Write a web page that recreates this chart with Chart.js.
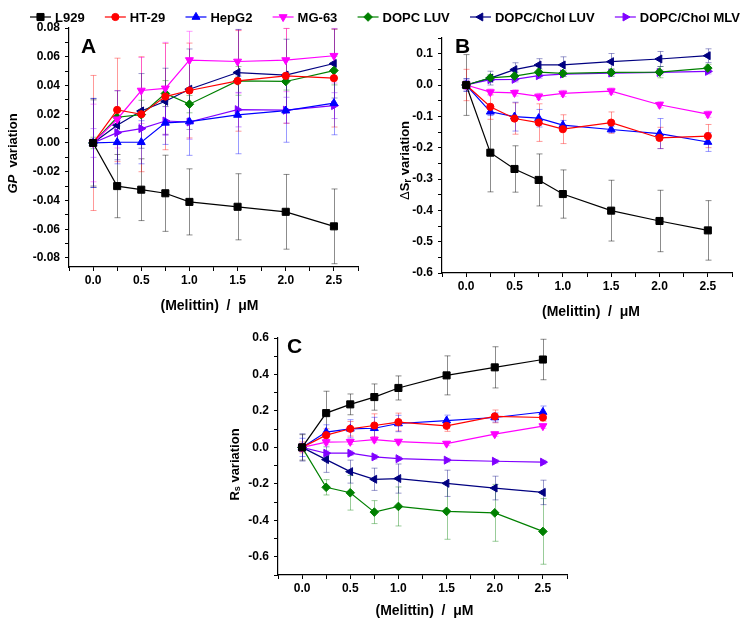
<!DOCTYPE html>
<html>
<head>
<meta charset="utf-8">
<script src="https://cdn.jsdelivr.net/npm/chart.js"></script>
<style>
  body { margin: 0; background: #fff; }
  #quadro { position: relative; width: 743px; height: 624px; }
  #quadro canvas { position: absolute; left: 0; top: 0; }
</style>
</head>
<body>
<div id="quadro">
  <canvas id="painelA" width="743" height="624"></canvas>
  <canvas id="painelB" width="743" height="624"></canvas>
  <canvas id="painelC" width="743" height="624"></canvas>
</div>
<script>
//--------------------------------------------------
// DADOS
//--------------------------------------------------

const concentracoes = [0, 0.25, 0.5, 0.75, 1.0, 1.5, 2.0, 2.5];
const series = ['L929', 'HT-29', 'HepG2', 'MG-63', 'DOPC LUV', 'DOPC/Chol LUV', 'DOPC/Chol MLV'];

// painel A — GP
const gpL929     = [0, -0.030, -0.0325, -0.035, -0.041, -0.0444, -0.0479, -0.058];
const gpHT29     = [0, 0.023, 0.020, 0.0323, 0.0365, 0.0432, 0.0467, 0.0451];
const gpHepG2    = [0, 0.0005, 0.0005, 0.014, 0.0149, 0.0195, 0.0225, 0.0277];
const gpMG63     = [0, 0.0165, 0.0365, 0.038, 0.0577, 0.0567, 0.0577, 0.0607];
const gpLuv      = [0, 0.0179, 0.0197, 0.0344, 0.027, 0.0432, 0.0428, 0.0504];
const gpCholLuv  = [0, 0.0123, 0.0223, 0.029, 0.0374, 0.049, 0.0472, 0.0553];
const gpCholMlv  = [0, 0.0072, 0.010, 0.0153, 0.0146, 0.0232, 0.0228, 0.026];

const gpErroL929    = [0.030, 0.022, 0.0215, 0.0265, 0.023, 0.023, 0.026, 0.026];
const gpErroHT29    = [0.047, 0.036, 0.040, 0.037, 0.033, 0.035, 0.033, 0.034];
const gpErroHepG2   = [0.031, 0.015, 0.015, 0.015, 0.0235, 0.027, 0.022, 0.022];
const gpErroMG63    = [0.027, 0.020, 0.023, 0.032, 0.020, 0.022, 0.022, 0.019];
const gpErroLuv     = [0.004, 0.006, 0.010, 0.009, 0.006, 0.010, 0.006, 0.010];
const gpErroCholLuv = [0.031, 0.024, 0.026, 0.023, 0.028, 0.030, 0.025, 0.024];
const gpErroCholMlv = [0.010, 0.008, 0.010, 0.010, 0.012, 0.012, 0.009, 0.009];

// painel B — ΔSr
const srL929     = [0, -0.216, -0.268, -0.303, -0.348, -0.401, -0.434, -0.464];
const srHT29     = [0, -0.0695, -0.107, -0.120, -0.141, -0.120, -0.169, -0.163];
const srHepG2    = [0, -0.0855, -0.101, -0.106, -0.128, -0.142, -0.155, -0.182];
const srMG63     = [0, -0.0226, -0.025, -0.0365, -0.027, -0.0195, -0.063, -0.093];
const srLuv      = [0, 0.023, 0.0286, 0.041, 0.037, 0.040, 0.041, 0.054];
const srCholLuv  = [0, 0.022, 0.049, 0.064, 0.064, 0.0745, 0.083, 0.0935];
const srCholMlv  = [0, 0.017, 0.018, 0.0297, 0.035, 0.038, 0.040, 0.0435];

const srErroL929    = [0.097, 0.125, 0.074, 0.083, 0.077, 0.097, 0.098, 0.095];
const srErroHT29    = [0.050, 0.040, 0.050, 0.060, 0.046, 0.034, 0.034, 0.037];
const srErroHepG2   = [0.020, 0.012, 0.046, 0.028, 0.015, 0.010, 0.048, 0.030];
const srErroMG63    = [0.012, 0.010, 0.010, 0.010, 0.010, 0.010, 0.010, 0.010];
const srErroLuv     = [0.010, 0.010, 0.012, 0.010, 0.010, 0.012, 0.018, 0.012];
const srErroCholLuv = [0.020, 0.022, 0.022, 0.020, 0.026, 0.026, 0.024, 0.022];
const srErroCholMlv = [0.015, 0.008, 0.008, 0.008, 0.008, 0.010, 0.008, 0.008];

// painel C — Rs
const rsL929     = [0, 0.188, 0.236, 0.276, 0.326, 0.395, 0.439, 0.482];
const rsHT29     = [0, 0.067, 0.102, 0.120, 0.139, 0.118, 0.170, 0.164];
const rsHepG2    = [0, 0.084, 0.102, 0.105, 0.131, 0.147, 0.164, 0.194];
const rsMG63     = [0, 0.029, 0.031, 0.043, 0.032, 0.021, 0.073, 0.117];
const rsLuv      = [0, -0.219, -0.249, -0.355, -0.324, -0.351, -0.359, -0.461];
const rsCholLuv  = [0, -0.067, -0.133, -0.175, -0.171, -0.197, -0.223, -0.247];
const rsCholMlv  = [0, -0.032, -0.032, -0.052, -0.062, -0.070, -0.076, -0.081];

const rsErroL929    = [0.070, 0.120, 0.057, 0.072, 0.066, 0.107, 0.113, 0.111];
const rsErroHT29    = [0.030, 0.035, 0.040, 0.064, 0.049, 0.030, 0.035, 0.020];
const rsErroHepG2   = [0.050, 0.040, 0.050, 0.060, 0.045, 0.030, 0.025, 0.033];
const rsErroMG63    = [0.020, 0.015, 0.015, 0.015, 0.012, 0.012, 0.012, 0.012];
const rsErroLuv     = [0.020, 0.042, 0.095, 0.063, 0.107, 0.153, 0.156, 0.180];
const rsErroCholLuv = [0.075, 0.070, 0.063, 0.061, 0.080, 0.072, 0.065, 0.067];
const rsErroCholMlv = [0.020, 0.012, 0.012, 0.012, 0.010, 0.010, 0.010, 0.010];

// ticks
const ticksX   = [-0.25, 0, 0.25, 0.5, 0.75, 1.0, 1.25, 1.5, 1.75, 2.0, 2.25, 2.5, 2.75];
const rotulosX = ['', '0.0', '', '0.5', '', '1.0', '', '1.5', '', '2.0', '', '2.5', ''];

const ticksYA   = [-0.08, -0.07, -0.06, -0.05, -0.04, -0.03, -0.02, -0.01, 0, 0.01, 0.02, 0.03, 0.04, 0.05, 0.06, 0.07, 0.08];
const rotulosYA = ['-0.08', '', '-0.06', '', '-0.04', '', '-0.02', '', '0.00', '', '0.02', '', '0.04', '', '0.06', '', '0.08'];

const ticksYB   = [-0.6, -0.55, -0.5, -0.45, -0.4, -0.35, -0.3, -0.25, -0.2, -0.15, -0.1, -0.05, 0, 0.05, 0.1, 0.15];
const rotulosYB = ['-0.6', '', '-0.5', '', '-0.4', '', '-0.3', '', '-0.2', '', '-0.1', '', '0.0', '', '0.1', ''];

const ticksYC   = [-0.7, -0.6, -0.5, -0.4, -0.3, -0.2, -0.1, 0, 0.1, 0.2, 0.3, 0.4, 0.5, 0.6];
const rotulosYC = ['', '-0.6', '', '-0.4', '', '-0.2', '', '0.0', '', '0.2', '', '0.4', '', '0.6'];

//--------------------------------------------------
// ESTILOS
//--------------------------------------------------

const cores = ['#000000', '#ff0000', '#0000ff', '#ff00ff', '#008000', '#000080', '#8000ff'];

const marcadores = [
  { estilo: 'rect',     rotacao: 0,   raio: 5   },
  { estilo: 'circle',   rotacao: 0,   raio: 3.6 },
  { estilo: 'triangle', rotacao: 0,   raio: 4.6 },
  { estilo: 'triangle', rotacao: 180, raio: 4.6 },
  { estilo: 'rectRot',  rotacao: 0,   raio: 4.3 },
  { estilo: 'triangle', rotacao: 270, raio: 4.6 },
  { estilo: 'triangle', rotacao: 90,  raio: 4.6 }
];

const FONTE = "'Liberation Sans', Arial, sans-serif";

Chart.defaults.font.family = FONTE;
Chart.defaults.font.size   = 12;
Chart.defaults.font.weight = 'bold';
Chart.defaults.color       = '#000';

function rgba(hex, a) {
  const n = parseInt(hex.slice(1), 16);
  return `rgba(${(n >> 16) & 255}, ${(n >> 8) & 255}, ${n & 255}, ${a})`;
}

//--------------------------------------------------
// MARCADOR (legenda)
//--------------------------------------------------

function desenharMarcador(ctx, i, x, y) {
  const m = marcadores[i];
  ctx.fillStyle   = cores[i];
  ctx.strokeStyle = cores[i];
  ctx.lineWidth   = 1;
  if (Chart.helpers && Chart.helpers.drawPoint) {
    Chart.helpers.drawPoint(ctx, {
      pointStyle: m.estilo, rotation: m.rotacao, radius: m.raio, borderWidth: 1
    }, x, y);
  } else {
    ctx.beginPath();
    ctx.arc(x, y, 3.5, 0, Math.PI * 2);
    ctx.fill();
  }
}

//--------------------------------------------------
// BARRAS DE ERRO
//--------------------------------------------------

const barrasErro = {
  id: 'barrasErro',
  beforeDatasetsDraw(chart) {
    const { ctx, scales: { x, y } } = chart;
    chart.data.datasets.forEach((ds, i) => {
      ctx.save();
      ctx.strokeStyle = ds.corErro;
      ctx.lineWidth   = 1;
      ds.data.forEach((p, j) => {
        const e  = ds.erros[j];
        const px = Math.round(x.getPixelForValue(p.x)) + 0.5;
        const y1 = y.getPixelForValue(p.y + e);
        const y2 = y.getPixelForValue(p.y - e);
        ctx.beginPath();
        ctx.moveTo(px, y1);     ctx.lineTo(px, y2);
        ctx.moveTo(px - 3, y1); ctx.lineTo(px + 3, y1);
        ctx.moveTo(px - 3, y2); ctx.lineTo(px + 3, y2);
        ctx.stroke();
      });
      ctx.restore();
    });
  }
};

//--------------------------------------------------
// TEXTOS DO PAINEL (letra, títulos)
//--------------------------------------------------

function tituloVertical(ctx, partes, cx, cy) {
  ctx.save();
  ctx.translate(cx, cy);
  ctx.rotate(-Math.PI / 2);
  let total = 0;
  partes.forEach(p => {
    ctx.font = p.fonte;
    p.largura = ctx.measureText(p.texto).width;
    total += p.largura;
  });
  let x = -total / 2;
  ctx.textAlign    = 'left';
  ctx.textBaseline = 'middle';
  partes.forEach(p => {
    ctx.font = p.fonte;
    ctx.fillText(p.texto, x, p.dy || 0);
    x += p.largura;
  });
  ctx.restore();
}

const textosPainel = {
  id: 'textosPainel',
  afterDraw(chart, args, opts) {
    const { ctx, chartArea: a } = chart;
    ctx.save();
    ctx.fillStyle = '#000';

    // letra
    ctx.font         = `bold 21px ${FONTE}`;
    ctx.textAlign    = 'left';
    ctx.textBaseline = 'alphabetic';
    ctx.fillText(opts.letra, a.left + opts.letraDx, a.top + opts.letraDy);

    // eixo x
    ctx.font         = `bold 14px ${FONTE}`;
    ctx.textAlign    = 'center';
    ctx.textBaseline = 'middle';
    ctx.fillText('(Melittin)  /  \u03BCM', (a.left + a.right) / 2 + opts.xDx, a.bottom + opts.xDy);

    // eixo y
    tituloVertical(ctx, opts.tituloY, a.left + opts.yDx, (a.top + a.bottom) / 2 + opts.yDy);
    ctx.restore();
  }
};

//--------------------------------------------------
// LEGENDA NO TOPO
//--------------------------------------------------

const legendaTopo = {
  id: 'legendaTopo',
  afterDraw(chart, args, opts) {
    if (!opts.inicio) return;
    const ctx = chart.ctx;
    ctx.save();
    ctx.font = `bold 13px ${FONTE}`;

    // espaço entre itens para ocupar de inicio até fim
    const larguras = series.map(nome => ctx.measureText(nome).width);
    const ocupado  = larguras.reduce((s, w) => s + w + opts.texto, 0);
    const folga    = (opts.fim - opts.inicio - ocupado) / (series.length - 1);

    let x0 = opts.inicio;
    series.forEach((nome, i) => {
      ctx.strokeStyle = cores[i];
      ctx.lineWidth   = 1.2;
      ctx.beginPath();
      ctx.moveTo(x0, opts.y);
      ctx.lineTo(x0 + opts.linha, opts.y);
      ctx.stroke();
      desenharMarcador(ctx, i, x0 + opts.linha / 2, opts.y);
      ctx.fillStyle    = '#000';
      ctx.font         = `bold 13px ${FONTE}`;
      ctx.textAlign    = 'left';
      ctx.textBaseline = 'middle';
      ctx.fillText(nome, x0 + opts.texto, opts.y + 1);
      x0 += opts.texto + larguras[i] + folga;
    });
    ctx.restore();
  }
};

//--------------------------------------------------
// CRIA UM PAINEL
//--------------------------------------------------

function criarPainel(id, cfg) {

  const datasets = cfg.medias.map((vals, i) => ({
    label: series[i],
    data: concentracoes.map((c, j) => ({ x: c, y: vals[j] })),
    erros: cfg.erros[i],
    corErro: rgba(cores[i], i === 0 ? 0.45 : 0.4),
    borderColor: cores[i],
    backgroundColor: cores[i],
    borderWidth: 1.2,
    pointStyle: marcadores[i].estilo,
    pointRotation: marcadores[i].rotacao,
    pointRadius: marcadores[i].raio,
    pointBorderWidth: 1,
    tension: 0,
    fill: false,
    clip: false
  }));

  const eixo = {
    border: { display: true, color: '#000', width: 1.2 },
    grid: { drawOnChartArea: false, drawTicks: true, tickLength: 4, color: '#000', tickWidth: 1 }
  };

  return new Chart(document.getElementById(id), {
    type: 'line',
    data: { datasets },
    options: {
      responsive: false,
      animation: false,
      devicePixelRatio: 1,
      layout: { padding: { left: 0, top: cfg.area.top, right: 743 - cfg.area.right, bottom: 0 } },
      plugins: {
        legend: { display: false },
        tooltip: { enabled: false },
        textosPainel: cfg.textos,
        legendaTopo: cfg.legenda || {}
      },
      scales: {
        x: {
          ...eixo,
          type: 'linear',
          min: -0.25,
          max: 2.75,
          afterBuildTicks: ax => { ax.ticks = ticksX.map(v => ({ value: v })); },
          afterFit: ax => {
            ax.height = 624 - cfg.area.bottom;
            ax.paddingLeft = 0;
            ax.paddingRight = 0;
          },
          ticks: { autoSkip: false, maxRotation: 0, padding: 2, callback: (v, i) => rotulosX[i] }
        },
        y: {
          ...eixo,
          type: 'linear',
          min: cfg.yMin,
          max: cfg.yMax,
          afterBuildTicks: ax => { ax.ticks = cfg.ticksY.map(v => ({ value: v })); },
          afterFit: ax => {
            ax.width = cfg.area.left;
            ax.paddingTop = 0;
            ax.paddingBottom = 0;
          },
          ticks: { autoSkip: false, padding: 5, callback: (v, i) => cfg.rotulosY[i] }
        }
      }
    },
    plugins: [barrasErro, textosPainel, legendaTopo]
  });
}

//--------------------------------------------------
// PAINÉIS
//--------------------------------------------------

criarPainel('painelA', {
  medias: [gpL929, gpHT29, gpHepG2, gpMG63, gpLuv, gpCholLuv, gpCholMlv],
  erros:  [gpErroL929, gpErroHT29, gpErroHepG2, gpErroMG63, gpErroLuv, gpErroCholLuv, gpErroCholMlv],
  yMin: -0.0863, yMax: 0.08,
  ticksY: ticksYA, rotulosY: rotulosYA,
  area: { left: 69, top: 28, right: 358, bottom: 267 },
  textos: {
    letra: 'A', letraDx: 12, letraDy: 25,
    xDx: -4, xDy: 39,
    yDx: -56, yDy: 6,
    tituloY: [
      { texto: 'GP', fonte: `italic bold 13px ${FONTE}` },
      { texto: '  variation', fonte: `bold 13px ${FONTE}` }
    ]
  },
  legenda: { y: 17, inicio: 30, fim: 740, linha: 21, texto: 25 }
});

criarPainel('painelB', {
  medias: [srL929, srHT29, srHepG2, srMG63, srLuv, srCholLuv, srCholMlv],
  erros:  [srErroL929, srErroHT29, srErroHepG2, srErroMG63, srErroLuv, srErroCholLuv, srErroCholMlv],
  yMin: -0.6, yMax: 0.15,
  ticksY: ticksYB, rotulosY: rotulosYB,
  area: { left: 442, top: 38, right: 732, bottom: 273 },
  textos: {
    letra: 'B', letraDx: 13, letraDy: 15,
    xDx: 4, xDy: 39,
    yDx: -37, yDy: 5,
    tituloY: [
      { texto: '\u0394', fonte: `13px ${FONTE}` },
      { texto: 'S', fonte: `bold 13px ${FONTE}` },
      { texto: 'r', fonte: `bold 10px ${FONTE}`, dy: 3 },
      { texto: ' variation', fonte: `bold 13px ${FONTE}` }
    ]
  }
});

criarPainel('painelC', {
  medias: [rsL929, rsHT29, rsHepG2, rsMG63, rsLuv, rsCholLuv, rsCholMlv],
  erros:  [rsErroL929, rsErroHT29, rsErroHepG2, rsErroMG63, rsErroLuv, rsErroCholLuv, rsErroCholMlv],
  yMin: -0.7, yMax: 0.6,
  ticksY: ticksYC, rotulosY: rotulosYC,
  area: { left: 278, top: 338, right: 567, bottom: 575 },
  textos: {
    letra: 'C', letraDx: 9, letraDy: 15,
    xDx: 2, xDy: 36,
    yDx: -43, yDy: 8,
    tituloY: [
      { texto: 'R', fonte: `bold 13px ${FONTE}` },
      { texto: 's', fonte: `bold 9px ${FONTE}`, dy: 3 },
      { texto: ' variation', fonte: `bold 13px ${FONTE}` }
    ]
  }
});
</script>
</body>
</html>
